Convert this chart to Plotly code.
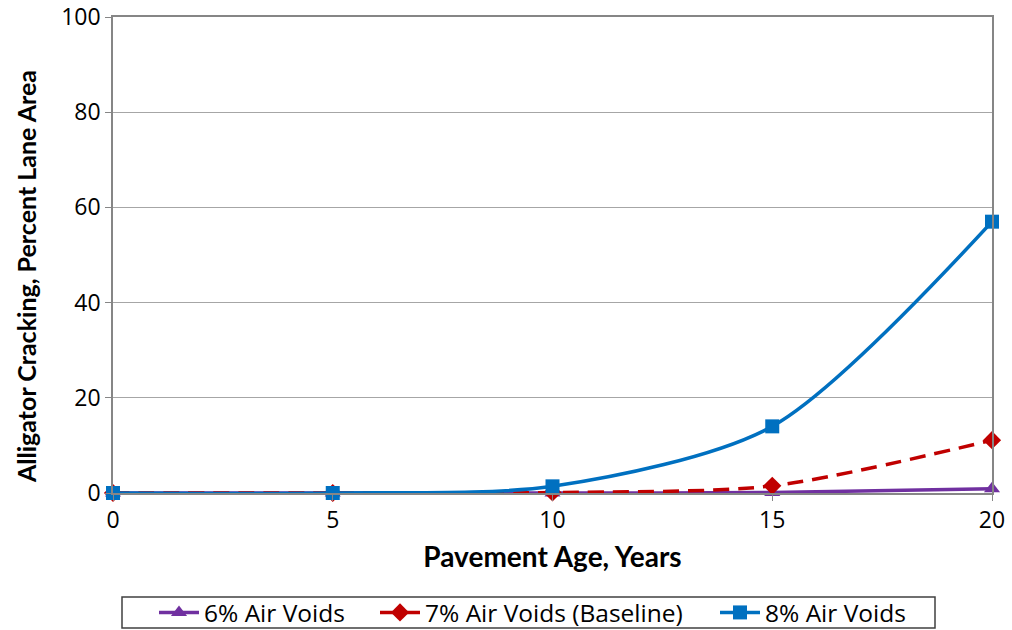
import plotly.graph_objects as go

years = [0, 5, 10, 15, 20]
av6 = [0, 0, 0, 0.1, 0.9]
av7 = [0, 0, 0.1, 1.5, 11.1]
av8 = [0, 0, 1.4, 14.0, 57.0]

W, H = 1012, 630
L, T = 113, 17
R = 1012 - 992
B = 630 - 493
pw, ph = W - L - R, H - T - B

# legend entry left edges in page pixels
series = [
    ("6% Air Voids", av6, "#7030A0", "triangle-up", "solid", "legend", 154),
    ("7% Air Voids (Baseline)", av7, "#C00000", "diamond", "16px,9px", "legend2", 375),
    ("8% Air Voids", av8, "#0070C0", "square", "solid", "legend3", 715),
]

fig = go.Figure()
for name, vals, color, sym, dash, lg, _ in series:
    fig.add_trace(go.Scatter(
        x=years, y=vals, name=name, mode="lines+markers", legend=lg,
        line=dict(color=color, width=3.5, dash=dash, shape="spline", smoothing=0.8),
        marker=dict(symbol=sym, size=14, color=color),
        cliponaxis=False,
    ))

legends = {}
for name, vals, color, sym, dash, lg, px in series:
    legends[lg] = dict(
        orientation="h", xref="container", yref="container",
        x=px / W, y=1 - 612.5 / H,
        xanchor="left", yanchor="middle", itemwidth=40,
        bgcolor="rgba(0,0,0,0)", borderwidth=0,
        font=dict(family="Open Sans, sans-serif", size=24.5, color="black"),
    )

fig.update_layout(
    width=W, height=H,
    paper_bgcolor="white", plot_bgcolor="white",
    margin=dict(l=L, r=R, t=T, b=B, autoexpand=False),
    font=dict(family="Open Sans, sans-serif", size=23, color="black"),
    showlegend=True,
    **legends,
)
# legend frame (page pixels converted to paper coords)
fig.add_shape(type="rect", xref="paper", yref="paper",
              x0=(122 - L) / pw, x1=(935 - L) / pw,
              y0=(493 - 628) / ph, y1=(493 - 597) / ph,
              line=dict(color="#404040", width=1.5), fillcolor="rgba(0,0,0,0)")

# y-axis title (placed as annotation to match its offset)
fig.add_annotation(
    text="<b>Alligator Cracking, Percent Lane Area</b>", textangle=-90,
    xref="paper", yref="paper", x=(26 - L) / pw, y=(493 - 277) / ph,
    xanchor="center", yanchor="middle", showarrow=False,
    font=dict(family="Lato, sans-serif", size=25, color="black"),
)

fig.update_xaxes(
    range=[0, 20], tickvals=[0, 5, 10, 15, 20], showgrid=False, automargin=False,
    showline=True, linecolor="#868686", linewidth=1.5, mirror=True,
    ticks="outside", ticklen=6, tickcolor="#868686",
    title=dict(text="<b>Pavement Age, Years</b>", font=dict(family="Lato, sans-serif", size=28), standoff=13),
    zeroline=False, ticklabeloverflow="allow",
)
fig.update_yaxes(
    range=[0, 100], tickvals=[0, 20, 40, 60, 80, 100], showgrid=True, gridcolor="#A6A6A6",
    automargin=False,
    showline=True, linecolor="#868686", linewidth=1.5, mirror=True,
    ticks="outside", ticklen=6, tickcolor="#868686",
    zeroline=False, ticklabeloverflow="allow",
)

fig.write_html("out.html", config={"displayModeBar": False},
               post_script="document.body.style.margin='0';")
